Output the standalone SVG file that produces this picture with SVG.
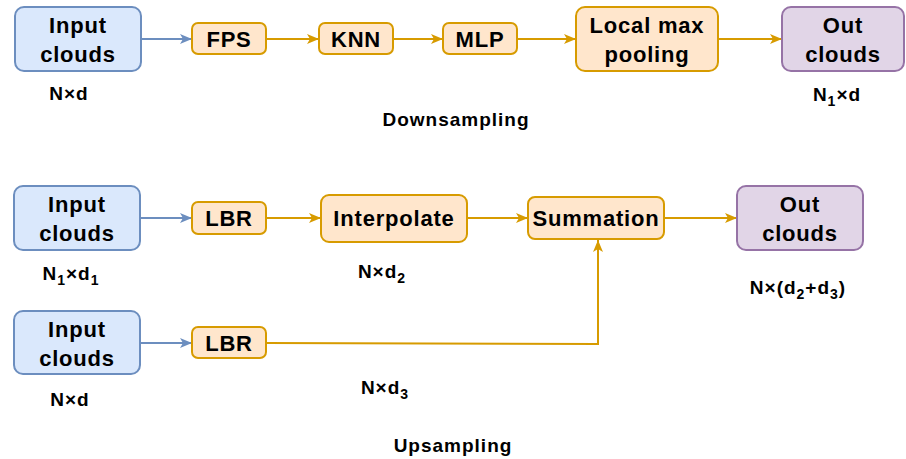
<svg xmlns="http://www.w3.org/2000/svg" width="906" height="459" viewBox="0 0 906 459">
  <defs>
    <marker id="arrBlue" viewBox="0 0 12 10" refX="12" refY="5" markerWidth="12" markerHeight="10" markerUnits="userSpaceOnUse" orient="auto">
      <path d="M0,0 L12,5 L0,10 L3,5 Z" fill="#6c8ebf"/>
    </marker>
    <marker id="arrOrange" viewBox="0 0 12 10" refX="12" refY="5" markerWidth="12" markerHeight="10" markerUnits="userSpaceOnUse" orient="auto">
      <path d="M0,0 L12,5 L0,10 L3,5 Z" fill="#d79b00"/>
    </marker>
  </defs>
  <style>
    .blue { fill: #dae8fc; stroke: #6c8ebf; stroke-width: 2; }
    .orange { fill: #ffe6cc; stroke: #d79b00; stroke-width: 2; }
    .purple { fill: #e1d5e7; stroke: #9673a6; stroke-width: 2; }
    .t { font-family: "Liberation Sans", Arial, sans-serif; font-weight: bold; font-size: 22px; letter-spacing: 0.8px; fill: #000; text-anchor: middle; }
    .lbl { font-family: "Liberation Sans", Arial, sans-serif; font-weight: bold; font-size: 19px; letter-spacing: 1px; fill: #000; text-anchor: middle; }
    .sub { font-size: 14px; }
    .cb { fill: none; stroke: #6c8ebf; stroke-width: 2; marker-end: url(#arrBlue); }
    .co { fill: none; stroke: #d79b00; stroke-width: 2; marker-end: url(#arrOrange); }
  </style>
  <rect width="906" height="459" fill="#ffffff"/>

  <!-- connectors -->
  <g id="connectors">
    <path class="cb" d="M141,39 L192,39"/>
    <path class="co" d="M266,39 L319,39"/>
    <path class="co" d="M393,39 L443,39"/>
    <path class="co" d="M517,39 L576,39"/>
    <path class="co" d="M718,39 L782,39"/>

    <path class="cb" d="M140,218 L192,218"/>
    <path class="co" d="M266,218 L321,218"/>
    <path class="co" d="M467,218 L528,218"/>
    <path class="co" d="M664,218 L737,218"/>
    <path class="cb" d="M140,343 L192,343"/>
    <path class="co" d="M266,343 L598,344 L598,240"/>
  </g>

  <!-- downsampling row -->
  <g id="down-input">
    <rect class="blue" x="15" y="7" width="126" height="64" rx="9"/>
    <text class="t" x="78" y="33">Input</text>
    <text class="t" x="78" y="62">clouds</text>
  </g>
  <g id="down-fps">
    <rect class="orange" x="192" y="23" width="74" height="31" rx="6"/>
    <text class="t" x="229" y="47">FPS</text>
  </g>
  <g id="down-knn">
    <rect class="orange" x="319" y="23" width="74" height="31" rx="6"/>
    <text class="t" x="356" y="47">KNN</text>
  </g>
  <g id="down-mlp">
    <rect class="orange" x="443" y="23" width="74" height="31" rx="6"/>
    <text class="t" x="480" y="47">MLP</text>
  </g>
  <g id="down-pool">
    <rect class="orange" x="576" y="7" width="142" height="64" rx="9"/>
    <text class="t" x="647" y="33">Local max</text>
    <text class="t" x="647" y="62">pooling</text>
  </g>
  <g id="down-out">
    <rect class="purple" x="782" y="7" width="122" height="64" rx="9"/>
    <text class="t" x="843" y="33">Out</text>
    <text class="t" x="843" y="62">clouds</text>
  </g>
  <text class="lbl" x="69" y="100">N×d</text>
  <text class="lbl" x="837" y="101">N<tspan class="sub" dy="5">1</tspan><tspan dy="-5">×d</tspan></text>
  <text class="lbl" x="456" y="126">Downsampling</text>

  <!-- upsampling row -->
  <g id="up-input1">
    <rect class="blue" x="14" y="186" width="126" height="64" rx="9"/>
    <text class="t" x="77" y="212">Input</text>
    <text class="t" x="77" y="241">clouds</text>
  </g>
  <g id="up-lbr1">
    <rect class="orange" x="192" y="202" width="74" height="32" rx="6"/>
    <text class="t" x="229" y="226">LBR</text>
  </g>
  <g id="up-interp">
    <rect class="orange" x="321" y="195" width="146" height="47" rx="8"/>
    <text class="t" x="394" y="226">Interpolate</text>
  </g>
  <g id="up-sum">
    <rect class="orange" x="528" y="197" width="136" height="42" rx="7"/>
    <text class="t" x="596" y="226">Summation</text>
  </g>
  <g id="up-out">
    <rect class="purple" x="737" y="186" width="126" height="64" rx="9"/>
    <text class="t" x="800" y="212">Out</text>
    <text class="t" x="800" y="241">clouds</text>
  </g>
  <g id="up-input2">
    <rect class="blue" x="14" y="311" width="126" height="63" rx="9"/>
    <text class="t" x="77" y="337">Input</text>
    <text class="t" x="77" y="366">clouds</text>
  </g>
  <g id="up-lbr2">
    <rect class="orange" x="192" y="327" width="74" height="31" rx="6"/>
    <text class="t" x="229" y="351">LBR</text>
  </g>

  <text class="lbl" x="71" y="280">N<tspan class="sub" dy="5">1</tspan><tspan dy="-5">×d</tspan><tspan class="sub" dy="5">1</tspan></text>
  <text class="lbl" x="382" y="278">N×d<tspan class="sub" dy="5">2</tspan></text>
  <text class="lbl" x="798" y="294">N×(d<tspan class="sub" dy="5">2</tspan><tspan dy="-5">+d</tspan><tspan class="sub" dy="5">3</tspan><tspan dy="-5">)</tspan></text>
  <text class="lbl" x="385" y="394">N×d<tspan class="sub" dy="5">3</tspan></text>
  <text class="lbl" x="70" y="406">N×d</text>
  <text class="lbl" x="453" y="452">Upsampling</text>
</svg>
